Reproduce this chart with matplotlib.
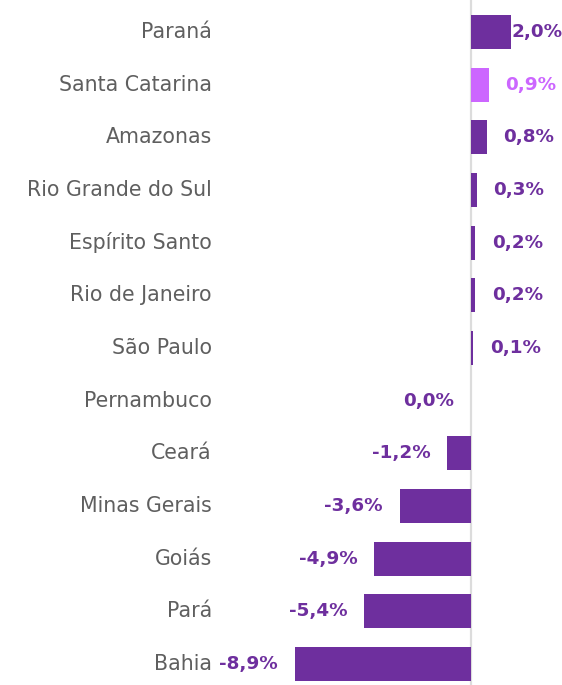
import matplotlib
matplotlib.use("Agg")
import matplotlib.pyplot as plt
from matplotlib.transforms import blended_transform_factory, offset_copy

states = ["Paraná", "Santa Catarina", "Amazonas", "Rio Grande do Sul", "Espírito Santo",
          "Rio de Janeiro", "São Paulo", "Pernambuco", "Ceará", "Minas Gerais",
          "Goiás", "Pará", "Bahia"]
values = [2.0, 0.9, 0.8, 0.3, 0.2, 0.2, 0.1, 0.0, -1.2, -3.6, -4.9, -5.4, -8.9]
highlight = "Santa Catarina"

DARK = "#6e2f9e"
LIGHT = "#cc66ff"
GREY_TXT = "#5f5f5f"

W, H, DPI = 562, 685, 100
fig = plt.figure(figsize=(W / DPI, H / DPI), dpi=DPI)
fig.patch.set_facecolor("white")
ax = fig.add_axes([0, 0, 1, 1])
ax.set_facecolor("white")

px_per_unit = 19.8
zero_px = 471
ax.set_xlim(-zero_px / px_per_unit, (W - zero_px) / px_per_unit)
row_px = 52.67
first_px = 32
ax.set_ylim((H - first_px) / row_px, -first_px / row_px)

ys = list(range(len(states)))
colors = [LIGHT if s == highlight else DARK for s in states]
ax.barh(ys, values, height=0.65, color=colors, zorder=2)
ax.axvline(0, color="#dcdcdc", lw=1.6, zorder=1)

font = "DejaVu Sans"
btrans = blended_transform_factory(fig.transFigure, ax.transData)
for y, s in zip(ys, states):
    ax.text(212 / W, y, s, transform=btrans, ha="right", va="center",
            fontsize=14.8, color=GREY_TXT, family=font)

for y, v, c in zip(ys, values, colors):
    txt = f"{v:.1f}%".replace(".", ",")
    if v > 0:
        off = 12 if v < max(values) else 0.3
        tr = offset_copy(ax.transData, fig=fig, x=off, y=0, units="points")
        ax.text(v, y, txt, transform=tr, ha="left", va="center", fontsize=13.2,
                fontweight="bold", color=c, family=font)
    else:
        tr = offset_copy(ax.transData, fig=fig, x=-12, y=0, units="points")
        ax.text(v, y, txt, transform=tr, ha="right", va="center", fontsize=13.2,
                fontweight="bold", color=c, family=font)

ax.axis("off")
fig.savefig("out.png", dpi=DPI, facecolor="white")
